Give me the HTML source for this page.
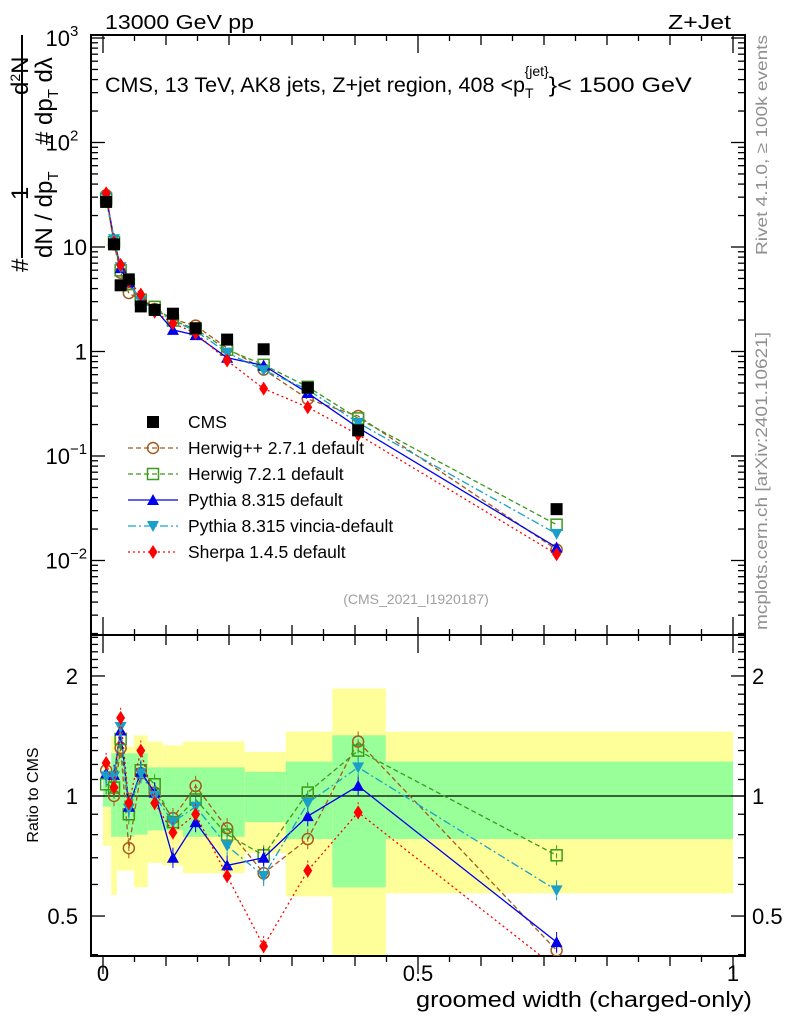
<!DOCTYPE html>
<html><head><meta charset="utf-8"><style>
body{margin:0;background:#fff;}
svg{display:block;font-family:"Liberation Sans",sans-serif;}
</style></head><body>
<svg id="c" width="786" height="1024" viewBox="0 0 786 1024" xmlns="http://www.w3.org/2000/svg">
<defs>
<clipPath id="cm"><rect x="91" y="35" width="654" height="600"/></clipPath>
<clipPath id="cr"><rect x="91" y="635" width="654" height="321"/></clipPath>
</defs>
<g id="bands" clip-path="url(#cr)"></g>
<g id="axes"></g>
<g id="mainmarks" clip-path="url(#cm)"></g>
<g id="ratiomarks" clip-path="url(#cr)"></g>
<g id="legend"></g>
<text x="105" y="29" font-size="20" textLength="149" lengthAdjust="spacingAndGlyphs">13000 GeV pp</text>
<text x="668" y="29" font-size="20" textLength="63" lengthAdjust="spacingAndGlyphs">Z+Jet</text>
<text x="105" y="92" font-size="21"><tspan textLength="420" lengthAdjust="spacingAndGlyphs">CMS, 13 TeV, AK8 jets, Z+jet region, 408 &lt;p</tspan><tspan font-size="14" dy="6">T</tspan><tspan font-size="14" dx="-9" dy="-22">{jet}</tspan><tspan dy="16" textLength="143" lengthAdjust="spacingAndGlyphs">}&lt; 1500 GeV</tspan></text>
<text x="416" y="604" font-size="14" fill="#a0a0a0" text-anchor="middle">(CMS_2021_I1920187)</text>
<text transform="translate(767,255) rotate(-90)" font-size="16" fill="#909090" textLength="220" lengthAdjust="spacingAndGlyphs">Rivet 4.1.0, ≥ 100k events</text>
<text transform="translate(767,630) rotate(-90)" font-size="17" fill="#909090" textLength="298" lengthAdjust="spacingAndGlyphs">mcplots.cern.ch [arXiv:2401.10621]</text>
<g font-size="24">
<line x1="22" y1="35" x2="22" y2="258" stroke="#000" stroke-width="2"/>
<text transform="translate(28,200) rotate(-90)">1</text>
<text transform="translate(52,258) rotate(-90)">dN / dp<tspan font-size="15" dy="6">T</tspan></text>
<text transform="translate(28,272) rotate(-90)">#</text>
<text transform="translate(52,145) rotate(-90)">#</text>
<text transform="translate(28,95) rotate(-90)">d<tspan font-size="14" dy="-8">2</tspan><tspan dy="8">N</tspan></text>
<text transform="translate(52,125) rotate(-90)">dp<tspan font-size="15" dy="6">T</tspan><tspan dy="-6"> dλ</tspan></text>
</g>
<text transform="translate(38,795) rotate(-90)" font-size="16" text-anchor="middle">Ratio to CMS</text>
<text x="416" y="1007" font-size="22" textLength="336" lengthAdjust="spacingAndGlyphs">groomed width (charged-only)</text>
</svg>
<script>
const xVals=[0.005,0.0175,0.028,0.041,0.06,0.082,0.111,0.147,0.197,0.255,0.325,0.405,0.72];
const cmsVals=[27,10.6,4.3,4.9,2.7,2.5,2.3,1.67,1.3,1.05,0.45,0.176,0.031];
const herwigppRatio=[1.16,1.0,1.32,0.74,1.14,1.02,0.88,1.06,0.83,0.64,0.78,1.37,0.41];
const herwig7Ratio=[1.07,1.05,1.39,0.90,1.16,1.07,0.86,0.98,0.80,0.71,1.02,1.30,0.71];
const pythiaRatio=[1.14,1.13,1.46,0.94,1.15,1.02,0.70,0.86,0.67,0.70,0.89,1.06,0.43];
const vinciaRatio=[1.12,1.12,1.49,0.93,1.14,1.0,0.86,0.94,0.75,0.63,0.96,1.18,0.58];
const sherpaRatio=[1.21,1.05,1.57,0.96,1.30,0.96,0.81,0.90,0.63,0.42,0.65,0.91,0.37];
const bandEdges=[0,0.013,0.022,0.049,0.071,0.095,0.127,0.225,0.29,0.364,0.449,1.0];
const yellowHi=[1.18,1.41,1.33,1.42,1.37,1.34,1.37,1.29,1.45,1.86,1.45];
const yellowLo=[0.75,0.565,0.65,0.59,0.68,0.67,0.64,0.72,0.56,0.39,0.57];
const greenHi=[1.16,1.28,1.28,1.28,1.18,1.18,1.18,1.15,1.22,1.42,1.22];
const greenLo=[0.94,0.79,0.79,0.80,0.82,0.82,0.79,0.86,0.78,0.59,0.78];
const mainTickBase=["10","10","10","1","10","10"];
const mainTickExp=["3","2","","","−1","−2"];
const mainTickVals=[1000,100,10,1,0.1,0.01];
const ratioTickVals=[2,1,0.5];
const xTickVals=[0,0.5,1];

const NS="http://www.w3.org/2000/svg";
const X=v=>103+630*v;
const YM=v=>351.5-104.5*Math.log10(v);
const YR=v=>796-398.7*Math.log10(v);
function mk(tag,attrs,parent){const e=document.createElementNS(NS,tag);for(const k in attrs)e.setAttribute(k,attrs[k]);parent.appendChild(e);return e;}
const axes=document.getElementById('axes'),bands=document.getElementById('bands');
const mm=document.getElementById('mainmarks'),rm=document.getElementById('ratiomarks'),lg=document.getElementById('legend');
for(let i=0;i<yellowHi.length;i++){
 const x1=X(bandEdges[i]),x2=X(bandEdges[i+1]);
 let r=mk('rect',{x:x1,y:YR(yellowHi[i]),width:x2-x1,height:YR(yellowLo[i])-YR(yellowHi[i]),fill:'#ffff99'},bands);
 
 
 r=mk('rect',{x:x1,y:YR(greenHi[i]),width:x2-x1,height:YR(greenLo[i])-YR(greenHi[i]),fill:'#99ff99'},bands);
 
 
}
mk('line',{x1:91,x2:745,y1:YR(1),y2:YR(1),stroke:'#000','stroke-width':1.2},axes);
let f=mk('rect',{x:91,y:35,width:654,height:600,fill:'none',stroke:'#000','stroke-width':2},axes);


f=mk('rect',{x:91,y:635,width:654,height:321,fill:'none',stroke:'#000','stroke-width':2},axes);


for(let d=-3;d<=3;d++){for(let m=1;m<10;m++){const v=m*Math.pow(10,d);const y=YM(v);if(y<35||y>635)continue;const L=m==1?14:7;
 mk('line',{x1:91,x2:91+L,y1:y,y2:y,stroke:'#000','stroke-width':1.3},axes);
 mk('line',{x1:745,x2:745-L,y1:y,y2:y,stroke:'#000','stroke-width':1.3},axes);}}
mainTickVals.forEach((v,i)=>{
 const t=mk('text',{x:mainTickExp[i]?70:87,y:YM(v)+8,'font-size':22,'text-anchor':'end'},axes);
 t.textContent=mainTickBase[i];
 
 
 if(mainTickExp[i]){const s=mk('text',{x:70,y:YM(v)-2,'font-size':15},axes);s.textContent=mainTickExp[i];
  
  }
});
for(let v=0.4;v<=2.55;v+=0.1){const y=YR(v);if(y<635||y>956)continue;const maj=Math.abs(v-1)<0.01||Math.abs(v-2)<0.01||Math.abs(v-0.5)<0.01;const L=maj?14:7;
 mk('line',{x1:91,x2:91+L,y1:y,y2:y,stroke:'#000','stroke-width':1.3},axes);
 mk('line',{x1:745,x2:745-L,y1:y,y2:y,stroke:'#000','stroke-width':1.3},axes);}
ratioTickVals.forEach(v=>{let t=mk('text',{x:78,y:YR(v)+8,'font-size':22,'text-anchor':'end'},axes);t.textContent=v;
 
 
 t=mk('text',{x:752,y:YR(v)+8,'font-size':22},axes);t.textContent=v;
 
 });
for(let k=0;k<=20;k++){const v=k*0.05,x=X(v);const L=k%10==0?18:(k%2==0?10:6);
 [[635,1],[956,-1],[35,-1],[635,-1]].forEach(([y0,s])=>mk('line',{x1:x,x2:x,y1:y0,y2:y0-s*L,stroke:'#000','stroke-width':1.3},axes));}
xTickVals.forEach(v=>{const t=mk('text',{x:X(v),y:981,'font-size':22,'text-anchor':'middle'},axes);t.textContent=v;
 
 });
const series=[
 {name:'Herwig++ 2.7.1 default',r:herwigppRatio,c:'#a55a1e',dash:'5,3',m:'circle'},
 {name:'Herwig 7.2.1 default',r:herwig7Ratio,c:'#3c9a1c',dash:'5,3',m:'square'},
 {name:'Pythia 8.315 default',r:pythiaRatio,c:'#0000ee',dash:'',m:'tri'},
 {name:'Pythia 8.315 vincia-default',r:vinciaRatio,c:'#1aa0c8',dash:'8,3,2,3',m:'tridown'},
 {name:'Sherpa 1.4.5 default',r:sherpaRatio,c:'#ff0000',dash:'2,3',m:'diamond'}];
function marker(type,x,y,c,g){
 let e;
 if(type=='circle')e=mk('circle',{cx:x,cy:y,r:5.5,fill:'none',stroke:c,'stroke-width':1.5},g);
 else if(type=='square')e=mk('rect',{x:x-5.5,y:y-5.5,width:11,height:11,fill:'none',stroke:c,'stroke-width':1.5},g);
 else if(type=='tri')e=mk('polygon',{points:`${x-6},${y+5} ${x+6},${y+5} ${x},${y-6}`,fill:c},g);
 else if(type=='tridown')e=mk('polygon',{points:`${x-6},${y-5} ${x+6},${y-5} ${x},${y+6}`,fill:c},g);
 else if(type=='diamond')e=mk('polygon',{points:`${x},${y-7} ${x+4.5},${y} ${x},${y+7} ${x-4.5},${y}`,fill:c},g);
 else e=mk('rect',{x:x-6,y:y-6,width:12,height:12,fill:'#000'},g);
 return e;}
series.forEach(s=>{
 const mp=xVals.map((x,i)=>X(x)+','+YM(cmsVals[i]*s.r[i])).join(' ');
 let l=mk('polyline',{points:mp,fill:'none',stroke:s.c,'stroke-width':1.3,'stroke-dasharray':s.dash},mm);
 
 
 const rp=xVals.map((x,i)=>X(x)+','+YR(s.r[i])).join(' ');
 l=mk('polyline',{points:rp,fill:'none',stroke:s.c,'stroke-width':1.3,'stroke-dasharray':s.dash},rm);
 
 
 xVals.forEach((x,i)=>{
  let e=marker(s.m,X(x),YM(cmsVals[i]*s.r[i]),s.c,mm);
  
  
  mk('line',{x1:X(x),x2:X(x),y1:YR(s.r[i]*1.06),y2:YR(s.r[i]/1.06),stroke:s.c,'stroke-width':1,'stroke-dasharray':s.dash},rm);
  e=marker(s.m,X(x),YR(s.r[i]),s.c,rm);
  
  
 });
});
xVals.forEach((x,i)=>{const e=marker('cms',X(x),YM(cmsVals[i]),'#000',mm);
 
 });
const legY=422;
let e=marker('cms',153,legY,'#000',lg);


let t=mk('text',{x:188,y:legY+6,'font-size':17.5},lg);t.textContent='CMS';


series.forEach((s,i)=>{const y=legY+26*(i+1);
 mk('line',{x1:128,x2:178,y1:y,y2:y,stroke:s.c,'stroke-width':1.3,'stroke-dasharray':s.dash},lg);
 marker(s.m,153,y,s.c,lg);
 const tt=mk('text',{x:188,y:y+6,'font-size':17.5},lg);tt.textContent=s.name;
 
 });
</script>
</body></html>
